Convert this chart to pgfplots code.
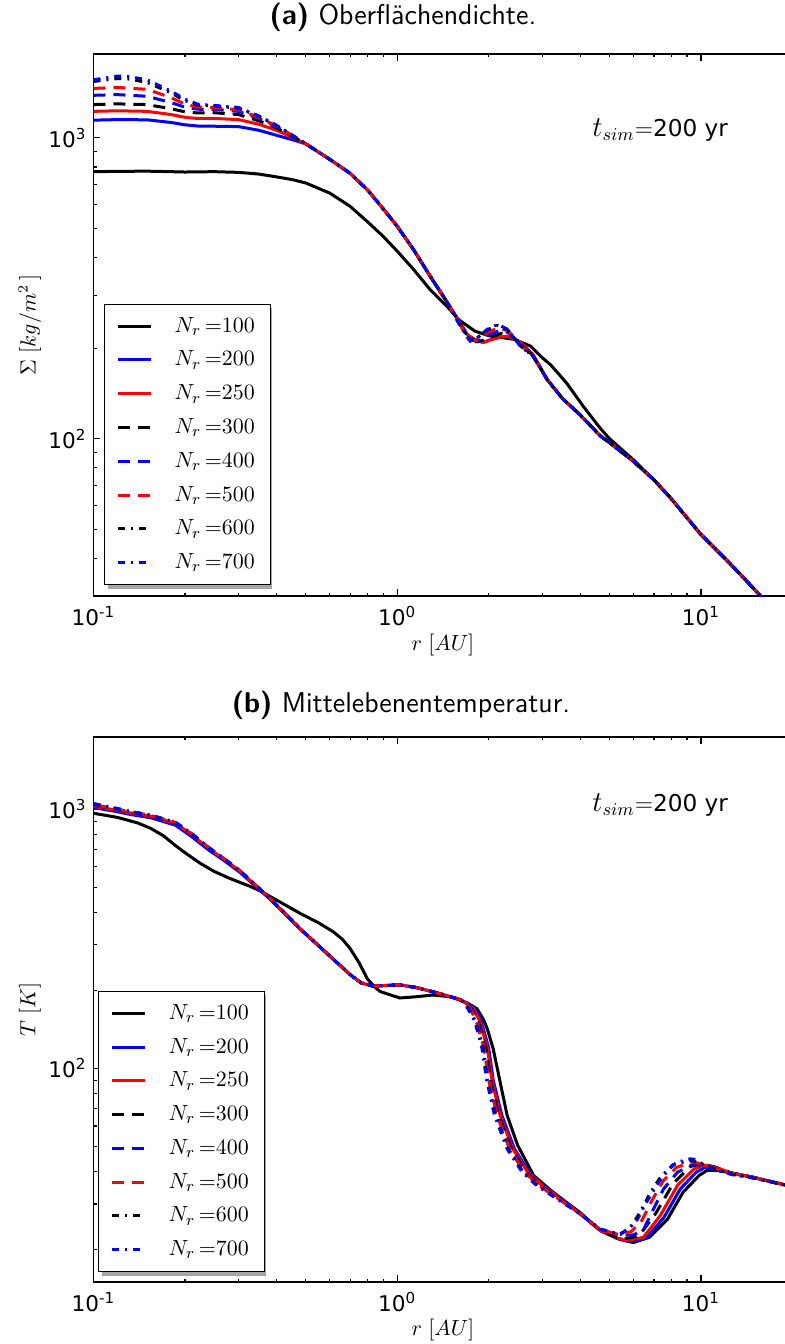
\documentclass[border=0pt]{standalone}
\usepackage{fontspec}
\usepackage{pgfplots}
\pgfplotsset{compat=1.18}
\newfontfamily\dejavu{DejaVu Sans}

\pgfplotsset{
  s100/.style={black, solid, line width=1.5pt},
  s200/.style={blue, solid, line width=1.5pt},
  s250/.style={red, solid, line width=1.5pt},
  s300/.style={black, line width=1.5pt, dash pattern=on 6pt off 4pt},
  s400/.style={blue, line width=1.5pt, dash pattern=on 6pt off 4pt},
  s500/.style={red, line width=1.5pt, dash pattern=on 6pt off 4pt},
  s600/.style={black, line width=1.5pt, dash pattern=on 3.5pt off 3pt on 1pt off 3pt},
  s700/.style={blue, line width=1.5pt, dash pattern=on 3.5pt off 3pt on 1pt off 3pt},
  leg/.style={legend cell align=left,
    legend style={anchor=south west, line width=0.6pt,
      font=\fontsize{10.8}{12}\selectfont, inner xsep=6pt, inner ysep=4.5pt,
      row sep=3.9pt, /tikz/every odd column/.append style={column sep=9pt}}},
}

\begin{document}
\begin{tikzpicture}
\path[use as bounding box] (0,0) rectangle (392.5pt,-672pt);

\node[font=\sffamily\fontsize{14.3}{16}\selectfont] at (201.5pt,-8.5pt) {\textbf{(a)} Oberflächendichte.};
\node[font=\sffamily\fontsize{14.3}{16}\selectfont] at (200.5pt,-352.5pt) {\textbf{(b)} Mittelebenentemperatur.};

% ---------- shadow of legend (a) ----------
\begin{axis}[hide axis, scale only axis, width=349.45pt, height=271pt,
  at={(46.75pt,-298pt)}, anchor=south west,
  xmode=log, ymode=log, xmin=0.1, xmax=20, ymin=30, ymax=1900, leg,
  legend image code/.code={\draw[draw=none] (0pt,0pt) -- (16.5pt,0pt);},
  legend style={at={(0.015,0.02)}, xshift=2pt, yshift=-2pt,
    draw=black!35, fill=black!35}]
\addlegendimage{draw=none}\addlegendentry{\phantom{$N_r\,{=}100$}}
\addlegendimage{draw=none}\addlegendentry{\phantom{$N_r\,{=}200$}}
\addlegendimage{draw=none}\addlegendentry{\phantom{$N_r\,{=}250$}}
\addlegendimage{draw=none}\addlegendentry{\phantom{$N_r\,{=}300$}}
\addlegendimage{draw=none}\addlegendentry{\phantom{$N_r\,{=}400$}}
\addlegendimage{draw=none}\addlegendentry{\phantom{$N_r\,{=}500$}}
\addlegendimage{draw=none}\addlegendentry{\phantom{$N_r\,{=}600$}}
\addlegendimage{draw=none}\addlegendentry{\phantom{$N_r\,{=}700$}}
\end{axis}

% ---------------- (a) ----------------
\begin{axis}[scale only axis, width=349.45pt, height=271pt,
  at={(46.75pt,-298pt)}, anchor=south west,
  xmode=log, ymode=log, xmin=0.1, xmax=20, ymin=30, ymax=1900,
  axis line style={line width=0.75pt},
  tick align=inside, major tick length=3.5pt, minor tick length=1.75pt,
  every tick/.append style={black, line width=0.6pt},
  xtick={0.1,1,10},
  xticklabels={10\textsuperscript{-1},10\textsuperscript{0},10\textsuperscript{1}},
  minor xtick={0.2,0.3,0.4,0.5,0.6,0.7,0.8,0.9,2,3,4,5,6,7,8,9,20},
  ytick={100,1000},
  yticklabels={10\textsuperscript{2},10\textsuperscript{3}},
  minor ytick={30,40,50,60,70,80,90,200,300,400,500,600,700,800,900},
  tick label style={font=\dejavu\fontsize{10.8}{12}\selectfont},
  xticklabel style={yshift=-1.5pt},
  label style={font=\fontsize{10.5}{12}\selectfont},
  xlabel={$r\;[AU]$},
  ylabel={$\Sigma\;[kg/m^2\,]$},
  xlabel style={at={(axis description cs:0.5,-0.09)}, anchor=center},
  ylabel style={at={(axis description cs:-0.091,0.5)}, anchor=center},
  leg,
  legend image code/.code={\draw[#1] (0pt,0pt) -- (16.5pt,0pt);},
  legend style={at={(0.015,0.02)}, draw=black, fill=white}]
\addplot[s100] coordinates {(0.1,772) (0.12,774) (0.15,775) (0.18,772) (0.2,770) (0.22,771) (0.25,772) (0.3,768) (0.35,758) (0.4,742) (0.45,727) (0.5,708) (0.6,655) (0.7,592) (0.8,525) (0.9,470) (1.0,420) (1.13,366) (1.28,314) (1.46,275) (1.6,248) (1.8,228) (2.0,220) (2.2,217) (2.42,214) (2.75,203) (3.0,186) (3.2,176) (3.44,162) (3.63,152) (4.1,128) (4.67,108) (5,100) (6,85) (7,73) (8,63) (10,48) (12,40) (14,34) (16,29.4) (20,22)};
\addlegendentry{$N_r\,{=}100$}
\addplot[s200] coordinates {(0.1,1145) (0.12,1150) (0.15,1148) (0.18,1125) (0.2,1105) (0.22,1095) (0.25,1093) (0.3,1090) (0.35,1060) (0.4,1020) (0.45,987) (0.5,955) (0.6,848) (0.7,762) (0.8,670) (0.9,580) (1.0,508) (1.13,426) (1.3,340) (1.46,284) (1.6,245) (1.7,222) (1.8,213) (1.92,209) (2.05,214) (2.2,218) (2.31,219) (2.45,214) (2.54,209) (2.8,190) (3.12,157) (3.5,136) (4,120) (4.67,102) (5,97) (6,84) (7,73) (8,63) (10,48) (12,40) (14,34) (16,29.4) (20,22)};
\addlegendentry{$N_r\,{=}200$}
\addplot[s250] coordinates {(0.1,1225) (0.12,1230) (0.15,1225) (0.18,1195) (0.2,1170) (0.22,1160) (0.25,1160) (0.3,1150) (0.35,1110) (0.4,1060) (0.45,1005) (0.5,955) (0.6,848) (0.7,762) (0.8,670) (0.9,580) (1.0,508) (1.13,426) (1.3,340) (1.46,284) (1.6,245) (1.7,222) (1.8,213) (1.92,209) (2.05,214) (2.2,218) (2.31,219) (2.45,214) (2.54,209) (2.8,190) (3.12,157) (3.5,136) (4,120) (4.67,102) (5,97) (6,84) (7,73) (8,63) (10,48) (12,40) (14,34) (16,29.4) (20,22)};
\addlegendentry{$N_r\,{=}250$}
\addplot[s300] coordinates {(0.1,1290) (0.12,1297) (0.15,1290) (0.18,1250) (0.2,1220) (0.22,1210) (0.25,1212) (0.3,1195) (0.35,1140) (0.4,1080) (0.45,1012) (0.5,955) (0.6,848) (0.7,762) (0.8,670) (0.9,580) (1.0,508) (1.13,426) (1.3,340) (1.46,284) (1.6,244) (1.7,220) (1.85,210) (2.0,216) (2.2,224) (2.35,222) (2.54,207) (2.8,189) (3.12,157) (3.5,136) (4,120) (4.67,102) (5,97) (6,84) (7,73) (8,63) (10,48) (12,40) (14,34) (16,29.4) (20,22)};
\addlegendentry{$N_r\,{=}300$}
\addplot[s400] coordinates {(0.1,1385) (0.12,1392) (0.15,1375) (0.18,1310) (0.2,1265) (0.22,1245) (0.25,1243) (0.3,1225) (0.35,1160) (0.4,1090) (0.45,1018) (0.5,955) (0.6,848) (0.7,762) (0.8,670) (0.9,580) (1.0,508) (1.13,426) (1.3,340) (1.46,284) (1.6,243) (1.7,217) (1.82,210) (1.98,220) (2.17,229) (2.33,225) (2.54,206) (2.8,189) (3.12,157) (3.5,136) (4,120) (4.67,102) (5,97) (6,84) (7,73) (8,63) (10,48) (12,40) (14,34) (16,29.4) (20,22)};
\addlegendentry{$N_r\,{=}400$}
\addplot[s500] coordinates {(0.1,1460) (0.12,1470) (0.15,1450) (0.18,1360) (0.2,1295) (0.22,1265) (0.25,1262) (0.3,1240) (0.35,1170) (0.4,1095) (0.45,1020) (0.5,955) (0.6,848) (0.7,762) (0.8,670) (0.9,580) (1.0,508) (1.13,426) (1.3,340) (1.46,284) (1.6,242) (1.72,213) (1.8,212) (1.98,225) (2.15,234) (2.32,228) (2.54,205) (2.8,188) (3.12,157) (3.5,136) (4,120) (4.67,102) (5,97) (6,84) (7,73) (8,63) (10,48) (12,40) (14,34) (16,29.4) (20,22)};
\addlegendentry{$N_r\,{=}500$}
\addplot[s600] coordinates {(0.1,1540) (0.12,1575) (0.13,1570) (0.15,1530) (0.18,1410) (0.2,1330) (0.22,1285) (0.25,1275) (0.3,1255) (0.35,1180) (0.4,1100) (0.45,1022) (0.5,955) (0.6,848) (0.7,762) (0.8,670) (0.9,580) (1.0,508) (1.13,426) (1.3,340) (1.46,284) (1.6,241) (1.74,212) (1.85,218) (1.98,230) (2.14,238) (2.31,230) (2.54,204) (2.8,188) (3.12,157) (3.5,136) (4,120) (4.67,102) (5,97) (6,84) (7,73) (8,63) (10,48) (12,40) (14,34) (16,29.4) (20,22)};
\addlegendentry{$N_r\,{=}600$}
\addplot[s700] coordinates {(0.1,1560) (0.12,1605) (0.13,1600) (0.15,1560) (0.18,1430) (0.2,1345) (0.22,1295) (0.25,1282) (0.3,1262) (0.35,1183) (0.4,1102) (0.45,1023) (0.5,955) (0.6,848) (0.7,762) (0.8,670) (0.9,580) (1.0,508) (1.13,426) (1.3,340) (1.46,284) (1.6,240) (1.74,211) (1.85,218) (1.98,231) (2.14,240) (2.31,231) (2.54,203) (2.8,188) (3.12,157) (3.5,136) (4,120) (4.67,102) (5,97) (6,84) (7,73) (8,63) (10,48) (12,40) (14,34) (16,29.4) (20,22)};
\addlegendentry{$N_r\,{=}700$}
\node[anchor=east, font=\fontsize{11.6}{13}\selectfont] at (rel axis cs:0.918,0.86) {{\fontsize{13.5}{16}\selectfont$t_{sim}$}${=}$\dejavu 200 yr};
\end{axis}

% ---------- shadow of legend (b) ----------
\begin{axis}[hide axis, scale only axis, width=349.45pt, height=272.5pt,
  at={(46.75pt,-641pt)}, anchor=south west,
  xmode=log, ymode=log, xmin=0.1, xmax=20, ymin=15, ymax=1900, leg,
  legend image code/.code={\draw[draw=none] (0pt,0pt) -- (16.5pt,0pt);},
  legend style={at={(0.0064,0.018)}, xshift=2pt, yshift=-2pt,
    draw=black!35, fill=black!35}]
\addlegendimage{draw=none}\addlegendentry{\phantom{$N_r\,{=}100$}}
\addlegendimage{draw=none}\addlegendentry{\phantom{$N_r\,{=}200$}}
\addlegendimage{draw=none}\addlegendentry{\phantom{$N_r\,{=}250$}}
\addlegendimage{draw=none}\addlegendentry{\phantom{$N_r\,{=}300$}}
\addlegendimage{draw=none}\addlegendentry{\phantom{$N_r\,{=}400$}}
\addlegendimage{draw=none}\addlegendentry{\phantom{$N_r\,{=}500$}}
\addlegendimage{draw=none}\addlegendentry{\phantom{$N_r\,{=}600$}}
\addlegendimage{draw=none}\addlegendentry{\phantom{$N_r\,{=}700$}}
\end{axis}

% ---------------- (b) ----------------
\begin{axis}[scale only axis, width=349.45pt, height=272.5pt,
  at={(46.75pt,-641pt)}, anchor=south west,
  xmode=log, ymode=log, xmin=0.1, xmax=20, ymin=15, ymax=1900,
  axis line style={line width=0.75pt},
  tick align=inside, major tick length=3.5pt, minor tick length=1.75pt,
  every tick/.append style={black, line width=0.6pt},
  xtick={0.1,1,10},
  xticklabels={10\textsuperscript{-1},10\textsuperscript{0},10\textsuperscript{1}},
  minor xtick={0.2,0.3,0.4,0.5,0.6,0.7,0.8,0.9,2,3,4,5,6,7,8,9,20},
  ytick={100,1000},
  yticklabels={10\textsuperscript{2},10\textsuperscript{3}},
  minor ytick={20,30,40,50,60,70,80,90,200,300,400,500,600,700,800,900},
  tick label style={font=\dejavu\fontsize{10.8}{12}\selectfont},
  xticklabel style={yshift=-1.5pt},
  label style={font=\fontsize{10.5}{12}\selectfont},
  xlabel={$r\;[AU]$},
  ylabel={$T\;[K]$},
  xlabel style={at={(axis description cs:0.5,-0.088)}, anchor=center},
  ylabel style={at={(axis description cs:-0.091,0.5)}, anchor=center},
  leg,
  legend image code/.code={\draw[#1] (0pt,0pt) -- (16.5pt,0pt);},
  legend style={at={(0.0064,0.018)}, draw=black, fill=white}]
\addplot[s100] coordinates {(0.1,965) (0.12,930) (0.14,885) (0.154,845) (0.17,790) (0.186,725) (0.2,680) (0.224,620) (0.25,575) (0.282,540) (0.328,504) (0.354,484) (0.393,452) (0.48,396) (0.55,365) (0.615,337) (0.66,315) (0.7,290) (0.75,255) (0.797,222) (0.84,207) (0.879,198) (1.02,187) (1.15,189) (1.31,192) (1.5,189) (1.7,179) (1.83,170) (1.92,155) (1.98,142) (2.07,119) (2.18,89) (2.3,66) (2.49,50.6) (2.81,38.7) (3.19,34) (3.6,30.5) (4.0,27.8) (4.66,23.7) (5.4,21.9) (5.99,21.3) (6.76,22.3) (7.76,26.2) (8.73,33.3) (9.87,38.7) (10.5,40.5) (11.5,40.3) (12.7,39.4) (14.6,38.2) (17,36.6) (20,35.0)};
\addlegendentry{$N_r\,{=}100$}
\addplot[s200] coordinates {(0.1,1015) (0.12,978) (0.132,955) (0.154,928) (0.186,868) (0.21,786) (0.224,740) (0.242,690) (0.27,632) (0.304,570) (0.381,450) (0.48,344) (0.55,298) (0.62,262) (0.7,230) (0.76,214) (0.83,208) (0.92,209) (1.02,210) (1.16,205) (1.39,194) (1.62,184) (1.80,170) (1.89,152) (2.00,120) (2.07,90) (2.21,66) (2.43,49) (2.71,40) (3.03,35.3) (3.46,31.5) (4.0,27.5) (4.66,23.7) (5.3,22.1) (5.85,21.5) (6.6,22.2) (7.55,26.6) (8.55,34.3) (9.65,39.8) (10.3,41.5) (11.2,41.0) (12.7,39.4) (14.6,38.2) (17,36.6) (20,35.0)};
\addlegendentry{$N_r\,{=}200$}
\addplot[s250] coordinates {(0.1,1027) (0.12,990) (0.132,968) (0.154,940) (0.186,883) (0.21,800) (0.224,752) (0.242,700) (0.27,640) (0.304,576) (0.381,453) (0.48,345) (0.55,298) (0.62,262) (0.7,230) (0.76,214) (0.83,208) (0.92,209) (1.02,210) (1.16,205) (1.39,194) (1.62,184) (1.78,170) (1.87,152) (1.98,120) (2.05,90) (2.18,66) (2.4,49) (2.68,40) (3.0,35.3) (3.44,31.5) (4.0,27.5) (4.66,23.7) (5.2,22.3) (5.7,21.7) (6.46,22.3) (7.35,27.1) (8.37,35.4) (9.45,40.8) (10.2,42.4) (11,41.8) (12.7,39.4) (14.6,38.2) (17,36.6) (20,35.0)};
\addlegendentry{$N_r\,{=}250$}
\addplot[s300] coordinates {(0.1,1035) (0.12,995) (0.132,972) (0.154,943) (0.186,886) (0.21,803) (0.224,755) (0.242,702) (0.27,641) (0.304,577) (0.381,453) (0.48,345) (0.55,298) (0.62,262) (0.7,230) (0.76,214) (0.83,208) (0.92,209) (1.02,210) (1.16,205) (1.39,194) (1.62,184) (1.76,170) (1.85,152) (1.96,120) (2.03,90) (2.16,66) (2.38,49) (2.65,40) (2.97,35.3) (3.42,31.5) (4.0,27.5) (4.66,23.8) (5.2,22.4) (5.6,22.0) (6.25,22.6) (7.1,27.6) (8.1,36.0) (9.2,41.8) (10.0,42.9) (11,41.8) (12.7,39.4) (14.6,38.2) (17,36.6) (20,35.0)};
\addlegendentry{$N_r\,{=}300$}
\addplot[s400] coordinates {(0.1,1040) (0.12,998) (0.132,975) (0.154,945) (0.186,888) (0.21,805) (0.224,756) (0.242,703) (0.27,642) (0.304,577) (0.381,453) (0.48,345) (0.55,298) (0.62,262) (0.7,230) (0.76,214) (0.83,208) (0.92,209) (1.02,210) (1.16,205) (1.39,194) (1.62,184) (1.75,170) (1.84,152) (1.94,120) (2.01,90) (2.14,66) (2.36,49) (2.63,40) (2.95,35.3) (3.4,31.5) (4.0,27.5) (4.66,23.8) (5.43,22.7) (6.0,22.8) (6.46,23.8) (6.97,28.6) (7.52,34.2) (8.37,39.8) (9.45,42.7) (11.0,41.7) (12.7,39.4) (14.6,38.2) (17,36.6) (20,35.0)};
\addlegendentry{$N_r\,{=}400$}
\addplot[s500] coordinates {(0.1,1043) (0.12,1000) (0.132,977) (0.154,947) (0.186,889) (0.21,806) (0.224,757) (0.242,704) (0.27,642) (0.304,577) (0.381,453) (0.48,345) (0.55,298) (0.62,262) (0.7,230) (0.76,214) (0.83,208) (0.92,209) (1.02,210) (1.16,205) (1.39,194) (1.62,184) (1.74,170) (1.82,152) (1.93,120) (2.00,90) (2.13,66) (2.34,49) (2.61,40) (2.93,35.3) (3.38,31.5) (4.0,27.5) (4.66,23.9) (5.4,22.8) (5.9,23.5) (6.4,26.0) (6.9,31.0) (7.5,36.8) (8.3,41.5) (9.3,43.5) (10.2,42.8) (11,41.5) (12.7,39.3) (14.6,38.2) (17,36.6) (20,35.0)};
\addlegendentry{$N_r\,{=}500$}
\addplot[s600] coordinates {(0.1,1048) (0.12,1004) (0.132,980) (0.154,949) (0.186,890) (0.21,807) (0.224,758) (0.242,705) (0.27,643) (0.304,578) (0.381,453) (0.48,345) (0.55,298) (0.62,262) (0.7,230) (0.76,214) (0.83,208) (0.92,209) (1.02,210) (1.16,205) (1.39,194) (1.62,184) (1.72,170) (1.81,152) (1.92,120) (1.98,90) (2.11,66) (2.32,49) (2.59,40) (2.9,35.3) (3.36,31.5) (4.0,27.5) (4.66,24.0) (5.4,22.9) (5.85,24.3) (6.3,27.8) (6.8,33.0) (7.4,38.5) (8.2,42.8) (9.3,44.2) (10.2,42.5) (11,41.2) (12.7,39.0) (14.6,38.0) (17,36.5) (20,35.0)};
\addlegendentry{$N_r\,{=}600$}
\addplot[s700] coordinates {(0.1,1052) (0.12,1007) (0.132,982) (0.154,950) (0.186,891) (0.21,808) (0.224,758) (0.242,705) (0.27,643) (0.304,578) (0.381,453) (0.48,345) (0.55,298) (0.62,262) (0.7,230) (0.76,214) (0.83,208) (0.92,209) (1.02,210) (1.16,205) (1.39,194) (1.62,184) (1.71,170) (1.80,152) (1.90,120) (1.97,90) (2.09,66) (2.30,49) (2.57,40) (2.88,35.3) (3.34,31.5) (4.0,27.5) (4.66,24.0) (5.43,22.9) (5.8,24.2) (6.18,26.2) (6.67,31.0) (7.25,36.4) (8.05,42.4) (9.0,44.8) (9.45,44.7) (11.0,40.8) (12.7,38.9) (14.6,37.9) (17,36.5) (20,35.0)};
\addlegendentry{$N_r\,{=}700$}
\node[anchor=east, font=\fontsize{11.6}{13}\selectfont] at (rel axis cs:0.918,0.875) {{\fontsize{13.5}{16}\selectfont$t_{sim}$}${=}$\dejavu 200 yr};
\end{axis}
\end{tikzpicture}
\end{document}
